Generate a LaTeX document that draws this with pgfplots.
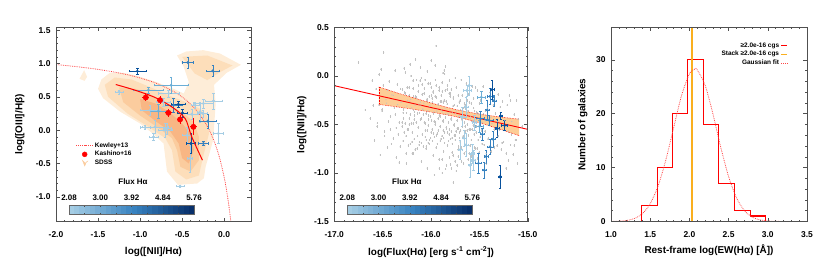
\documentclass[border=0pt]{standalone}
\usepackage{fontspec}
\setmainfont{Liberation Sans}
\usepackage{pgfplots}
\pgfplotsset{compat=1.18}
\definecolor{cbA}{RGB}{165,205,228}
\definecolor{cbB}{RGB}{107,174,214}
\definecolor{cbC}{RGB}{55,130,192}
\definecolor{cbD}{RGB}{8,81,156}
\definecolor{cbE}{RGB}{8,48,107}
\definecolor{sd1}{RGB}{254,237,216}
\definecolor{sd2}{RGB}{253,222,186}
\definecolor{sd3}{RGB}{251,204,158}
\definecolor{sd4}{RGB}{248,182,132}
\definecolor{band}{RGB}{253,205,150}
\definecolor{stackor}{RGB}{250,175,30}
\definecolor{myred}{RGB}{255,0,0}
\definecolor{histred}{RGB}{255,0,0}
\definecolor{gaussred}{RGB}{255,70,70}
\definecolor{frame}{RGB}{80,80,80}
\foreach \i in {0,...,11}{\pgfmathtruncatemacro\p{round(\i*100/12)}\xglobal\colorlet{cbs\i}{cbC!\p!cbA}}
\foreach \i in {12,...,23}{\pgfmathtruncatemacro\p{round((\i-12)*100/11)}\xglobal\colorlet{cbs\i}{cbE!\p!cbC}}
\pgfplotsset{
  myaxis/.style={
    scale only axis, axis on top,
    axis line style={frame, line width=0.9pt},
    tick style={frame, line width=0.6pt},
    major tick length=4pt, minor tick length=2pt,
    ticklabel style={font=\fontsize{8.5}{10}\selectfont\bfseries},
    label style={font=\fontsize{10}{12}\selectfont\bfseries},
    /pgf/number format/assume math mode=true,
    /pgf/number format/fixed, /pgf/number format/fixed zerofill,
    /pgf/number format/precision=1,
    minor x tick num=4, minor y tick num=4,
    xticklabel shift=7pt, yticklabel shift=2pt,
  },
  blueerr/.style={only marks, mark=*, mark size=1.2pt, color=#1,
    error bars/x dir=both, error bars/x explicit, error bars/y dir=both, error bars/y explicit,
    error bars/error bar style={line width=0.45pt}},
}
\newcommand{\cbar}[2]{% #1 = left x, #2 = slice width (axis description)
  \pgfplotsinvokeforeach{0,...,23}{
    \fill[cbs##1] (axis description cs:{#1+##1*#2},0.037) rectangle (axis description cs:{#1+(##1+1)*#2+0.002},0.081);}
  \draw[black!60, line width=0.7pt] (axis description cs:#1,0.037) rectangle (axis description cs:{#1+24*#2},0.081);
  \pgfplotsinvokeforeach{1,...,7}{
    \draw[black!70, line width=0.4pt] (axis description cs:{#1+##1*3*#2},0.037) -- ++(0pt,1.5pt);
    \draw[black!70, line width=0.4pt] (axis description cs:{#1+##1*3*#2},0.081) -- ++(0pt,-1.5pt);}
  \pgfplotsinvokeforeach{0,1,2,3,4}{
    \node[font=\fontsize{8}{9}\selectfont\bfseries] at (axis description cs:{#1+##1*6*#2},0.121)
      {\pgfmathparse{2.08+##1*0.92}\pgfmathprintnumber[fixed,fixed zerofill,precision=2,assume math mode=true]{\pgfmathresult}};}
}
\begin{document}
\begin{tikzpicture}
\useasboundingbox (0,0) rectangle (830bp,277bp);
% ================= Panel 1 =================
\begin{axis}[myaxis, at={(56bp,55.5bp)}, anchor=south west,
  width=195bp, height=194bp,
  xmin=-2.0, xmax=0.32, ymin=-1.37, ymax=1.54,
  xtick={-2,-1.5,-1,-0.5,0}, ytick={-1,-0.5,0,0.5,1,1.5},
  xlabel={log([NII]/Hα)}, ylabel={log([OIII]/Hβ)},
  xlabel style={at={(axis description cs:0.5,-0.157)}, anchor=center},
  ylabel style={at={(axis description cs:-0.185,0.5)}, anchor=center},
  legend style={at={(axis description cs:0.10,0.415)}, anchor=north west,
    draw=none, fill=none, font=\fontsize{6.5}{7.5}\selectfont\bfseries,
    row sep=0.3pt, inner sep=0pt, nodes={inner sep=1.2pt}},
  legend cell align=left,
]
% SDSS contours
\addplot[fill=sd1, draw=none, forget plot] coordinates {
(-1.50,0.62) (-1.46,0.76) (-1.36,0.86) (-1.20,0.86) (-1.05,0.82) (-0.80,0.72)
(-0.60,0.62) (-0.48,0.55) (-0.42,0.72) (-0.48,0.95) (-0.56,1.12) (-0.45,1.18)
(-0.25,1.20) (-0.05,1.15) (0.20,0.98) (0.03,0.86) (-0.12,0.68) (-0.10,0.40)
(-0.13,-0.15) (-0.22,-0.55) (-0.24,-0.72) (-0.32,-0.80) (-0.55,-0.82)
(-0.68,-0.62) (-0.72,-0.20) (-0.85,-0.05) (-1.00,0.10) (-1.24,0.28) (-1.44,0.48)} -- cycle;
\addplot[fill=sd1, draw=none, forget plot] coordinates {
(-1.72,0.77) (-1.66,0.74) (-1.63,0.80) (-1.665,0.90)} -- cycle;
\addplot[fill=sd2, draw=none, forget plot] coordinates {
(-1.42,0.68) (-1.30,0.79) (-1.10,0.76) (-0.85,0.63) (-0.62,0.50) (-0.45,0.42)
(-0.30,0.33) (-0.20,0.22) (-0.18,-0.05) (-0.25,-0.40) (-0.30,-0.68) (-0.45,-0.74)
(-0.58,-0.62) (-0.62,-0.30) (-0.70,-0.12) (-0.90,0.05) (-1.15,0.25) (-1.38,0.50)} -- cycle;
\addplot[fill=sd2, draw=none, forget plot] coordinates {
(-0.50,1.10) (-0.20,1.12) (0.10,0.97) (-0.05,0.87) (-0.20,0.75) (-0.35,0.85)} -- cycle;
\addplot[fill=sd3, draw=none, forget plot] coordinates {
(-1.25,0.64) (-1.05,0.62) (-0.85,0.52) (-0.65,0.38) (-0.48,0.25) (-0.36,0.12)
(-0.30,-0.10) (-0.30,-0.45) (-0.40,-0.62) (-0.52,-0.55) (-0.56,-0.30) (-0.62,-0.12)
(-0.80,0.05) (-1.00,0.22) (-1.20,0.42)} -- cycle;
\addplot[fill=sd4, draw=none, forget plot] coordinates {
(-1.00,0.47) (-0.82,0.40) (-0.64,0.26) (-0.50,0.10) (-0.40,-0.05) (-0.36,-0.30)
(-0.42,-0.50) (-0.50,-0.42) (-0.54,-0.20) (-0.64,-0.02) (-0.82,0.14) (-0.98,0.30)} -- cycle;
% Kewley+13
\addplot[gaussred, densely dotted, line width=0.8pt, smooth, forget plot] coordinates {
(-2.0,0.984) (-1.8,0.959) (-1.6,0.929) (-1.4,0.892) (-1.2,0.845) (-1.0,0.783)
(-0.8,0.700) (-0.6,0.580) (-0.5,0.498) (-0.4,0.392) (-0.3,0.253) (-0.2,0.059)
(-0.15,-0.070) (-0.1,-0.229) (-0.05,-0.432) (0.0,-0.701) (0.03,-0.908)
(0.05,-1.071) (0.07,-1.262) (0.085,-1.427)};
% blue points
\addplot[forget plot, blueerr=cbA] table[row sep=\\, x error index=2, y error index=3] {
-1.25 0.575 0.05 0.03 \\ -0.385 0.24 0.06 0.08 \\ -0.246 0.40 0.12 0.07 \\
-0.127 0.44 0.10 0.12 \\ -0.881 0.30 0.12 0.08 \\ -0.722 0.425 0.08 0.06 \\
-0.821 0.05 0.15 0.10 \\ -0.702 0.0 0.08 0.10 \\ -0.94 0.04 0.06 0.03 \\
-0.068 -0.05 0.06 0.15 \\ -0.66 0.55 0.12 0.05 \\ -0.345 0.375 0.05 0.05 \\
-0.286 0.275 0.04 0.15 \\ -0.444 -0.075 0.05 0.12 \\ -0.524 -0.84 0.05 0.01 \\
-0.405 -0.425 0.03 0.20 \\ -0.84 -0.10 0.05 0.05 \\ -0.68 0.025 0.05 0.08 \\
-0.254 0.25 0.05 0.05 \\ };
\addplot[forget plot, blueerr=cbB] table[row sep=\\, x error index=2, y error index=3] {
-0.631 0.675 0.20 0.12 \\ -0.90 0.60 0.18 0.05 \\ -0.782 0.285 0.10 0.10 \\ };
\addplot[forget plot, blueerr=cbC] table[row sep=\\, x error index=2, y error index=3] {
-0.432 1.015 0.07 0.08 \\ -0.135 0.89 0.08 0.08 \\ -0.60 0.375 0.10 0.10 \\
-0.194 0.135 0.10 0.10 \\ -0.246 -0.20 0.06 0.03 \\ };
\addplot[forget plot, blueerr=cbD] table[row sep=\\, x error index=2, y error index=3] {
-1.032 0.885 0.10 0.05 \\ -0.544 0.39 0.08 0.05 \\ -0.496 0.26 0.06 0.06 \\
-0.397 -0.20 0.05 0.15 \\ };
% Kashino fit line
\addplot[myred, line width=1pt, smooth, forget plot] coordinates {
(-1.289,0.685) (-1.06,0.60) (-0.821,0.49) (-0.623,0.35) (-0.464,0.175)
(-0.385,-0.10) (-0.258,-0.45)};
% Kashino points
\addplot[forget plot, only marks, mark=*, mark size=2.7pt, color=myred,
  error bars/x dir=both, error bars/x explicit, error bars/y dir=both, error bars/y explicit,
  error bars/error mark=none,
  error bars/error bar style={line width=0.9pt}] table[row sep=\\, x error index=2, y error index=3] {
-0.932 0.49 0.04 0.06 \\ -0.762 0.45 0.04 0.06 \\ -0.663 0.26 0.04 0.06 \\
-0.524 0.16 0.04 0.07 \\ -0.365 0.05 0.04 0.13 \\ };
% legend
\addlegendimage{gaussred, densely dotted, line width=1pt}
\addlegendentry{Kewley+13}
\addlegendimage{only marks, mark=*, mark size=2.5pt, myred}
\addlegendentry{Kashino+16}
\addlegendimage{legend image code/.code={\fill[sd3] (0.22cm,0.1cm) -- (0.30cm,-0.1cm) -- (0.36cm,0.04cm) -- (0.42cm,0.08cm) -- (0.32cm,0.0cm) -- cycle;}}
\addlegendentry{SDSS}
\cbar{0.067}{0.026708}
\node[font=\fontsize{8}{9}\selectfont\bfseries] at (axis description cs:0.395,0.205) {Flux Hα};
\end{axis}
% ================= Panel 2 =================
\begin{axis}[myaxis, at={(334.3bp,55.5bp)}, anchor=south west,
  width=193.5bp, height=194bp,
  xmin=-17, xmax=-15, ymin=-1.5, ymax=0.5,
  xtick={-17,-16.5,-16,-15.5,-15}, ytick={-1.5,-1,-0.5,0,0.5},
  xlabel={log(Flux(Hα) [erg s\textsuperscript{-1} cm\textsuperscript{-2}])},
  ylabel={log([NII]/Hα)},
  xlabel style={at={(axis description cs:0.5,-0.157)}, anchor=center},
  ylabel style={at={(axis description cs:-0.168,0.5)}, anchor=center},
]
\addplot[only marks, mark=*, mark size=0.35pt, color=black!24,
  error bars/y dir=both, error bars/y fixed=0.014, error bars/error mark=none,
  error bars/error bar style={line width=0.3pt, black!24}]
 coordinates {
(-16.75,0.14) (-16.68,-0.35) (-16.63,-0.44) (-16.61,-0.05) (-16.56,-0.52) (-16.54,-0.30) (-16.52,0.07) (-16.49,0.24) (-16.51,-0.36) (-16.48,-0.62)
(-16.46,-0.28) (-16.44,-0.47) (-16.45,-0.15) (-16.42,-0.55) (-16.41,-0.70) (-16.39,-0.20) (-16.37,-0.40) (-16.38,-0.33) (-16.36,-0.84) (-16.35,-0.09)
(-16.34,-0.60) (-16.33,-0.48) (-16.31,-0.27) (-16.30,-0.52) (-16.32,-0.73) (-16.29,-0.38) (-16.28,0.08) (-16.27,-0.18) (-16.285,-0.44) (-16.26,-0.62)
(-16.25,-0.31) (-16.24,-0.55) (-16.255,-0.90) (-16.23,-0.12) (-16.22,0.12) (-16.21,-0.24) (-16.215,-0.40) (-16.20,-0.68) (-16.225,-0.50) (-16.19,-0.05)
(-16.18,-0.35) (-16.195,-0.58) (-16.175,-0.45) (-16.185,-0.80) (-16.16,0.17) (-16.155,-0.22) (-16.165,-0.30) (-16.15,-0.48) (-16.14,-0.62) (-16.17,-0.41)
(-16.13,-0.10) (-16.12,-0.38) (-16.135,-0.53) (-16.125,-0.71) (-16.11,-0.27) (-16.10,-0.02) (-16.095,-0.19) (-16.105,-0.44) (-16.09,-0.60) (-16.085,-0.35)
(-16.10,-0.88) (-16.07,-0.13) (-16.075,-0.28) (-16.065,-0.49) (-16.06,-0.56) (-16.08,-0.40) (-16.055,-0.75) (-16.04,0.05) (-16.045,-0.24) (-16.035,-0.36)
(-16.03,-0.51) (-16.05,-0.66) (-16.025,-0.45) (-16.04,-0.95) (-16.01,-0.08) (-16.015,-0.31) (-16.005,-0.42) (-16.00,-0.58) (-16.02,-0.70) (-15.995,-0.20)
(-15.98,-0.16) (-15.985,-0.27) (-15.975,-0.39) (-15.97,-0.47) (-15.99,-0.55) (-15.965,-0.63) (-15.98,-0.82) (-15.95,0.31) (-15.955,-0.04) (-15.945,-0.22)
(-15.94,-0.35) (-15.96,-0.50) (-15.935,-0.59) (-15.95,-0.74) (-15.93,-0.44) (-15.92,-0.12) (-15.925,-0.30) (-15.915,-0.41) (-15.91,-0.52) (-15.905,-0.67)
(-15.92,-0.86) (-15.90,-0.26) (-15.89,-0.07) (-15.895,-0.20) (-15.885,-0.37) (-15.88,-0.46) (-15.875,-0.56) (-15.89,-0.62) (-15.87,-0.78) (-15.885,-1.00)
(-15.86,0.02) (-15.865,-0.25) (-15.855,-0.33) (-15.85,-0.43) (-15.845,-0.53) (-15.86,-0.69) (-15.84,-0.92) (-15.855,-0.15) (-15.83,-0.10) (-15.835,-0.29)
(-15.825,-0.40) (-15.82,-0.48) (-15.815,-0.60) (-15.83,-0.72) (-15.81,-0.84) (-15.80,-0.18) (-15.805,-0.36) (-15.795,-0.45) (-15.79,-0.57) (-15.80,-0.65)
(-15.785,-0.79) (-15.79,-0.95) (-15.81,-0.05) (-15.77,-0.23) (-15.775,-0.31) (-15.765,-0.50) (-15.76,-0.61) (-15.78,-0.70) (-15.77,-1.10) (-15.755,-0.88)
(-15.74,-0.12) (-15.745,-0.39) (-15.735,-0.46) (-15.73,-0.54) (-15.75,-0.66) (-15.725,-0.76) (-15.74,-0.98) (-15.71,-0.27) (-15.715,-0.42) (-15.705,-0.58)
(-15.70,-0.68) (-15.72,-0.83) (-15.695,-0.35) (-15.68,-0.20) (-15.685,-0.44) (-15.675,-0.52) (-15.67,-0.63) (-15.69,-0.74) (-15.665,-0.90) (-15.65,-0.30)
(-15.655,-0.48) (-15.645,-0.57) (-15.64,-0.71) (-15.65,-1.23) (-15.635,-0.40) (-15.62,-0.36) (-15.625,-0.50) (-15.615,-0.61) (-15.61,-0.80) (-15.63,-0.25)
(-15.59,-0.42) (-15.595,-0.55) (-15.585,-0.66) (-15.58,-0.47) (-15.60,-0.92) (-15.56,-0.33) (-15.565,-0.51) (-15.555,-0.60) (-15.55,-0.74) (-15.53,-0.45)
(-15.535,-0.58) (-15.525,-0.39) (-15.52,-0.85) (-15.50,-0.28) (-15.505,-0.52) (-15.495,-0.63) (-15.47,-0.48) (-15.475,-0.70) (-15.465,-0.40) (-15.44,-0.36)
(-15.445,-0.57) (-15.435,-0.90) (-15.41,-0.50) (-15.415,-0.65) (-15.38,-0.43) (-15.385,-0.78) (-15.35,-0.55) (-15.355,-0.30) (-15.31,-0.62) (-15.315,-0.47)
(-15.27,-0.69) (-15.22,-0.52) (-15.225,-0.80) (-15.17,-0.60) (-15.12,-0.66) (-16.00,0.16) (-16.11,0.09) (-15.96,0.11) (-15.88,0.03) (-15.85,0.10)
(-15.18,-0.25) (-15.10,-0.45) (-15.14,-0.72) (-15.06,-0.52) (-15.20,-0.87)
(-16.600,-0.305) (-16.585,-0.665) (-16.570,-0.135) (-16.555,-0.485) (-16.540,0.015) (-16.525,-0.815) (-16.510,-0.345) (-16.495,-0.095) (-16.480,-0.575) (-16.465,-0.245)
(-16.450,-0.735) (-16.435,-0.055) (-16.420,-0.415) (-16.405,-0.195) (-16.390,-0.645) (-16.375,0.055) (-16.360,-0.535) (-16.345,-0.295) (-16.330,-0.895) (-16.315,-0.135)
(-16.300,-0.48) (-16.295,-0.14) (-16.290,-0.67) (-16.285,-0.345) (-16.280,-0.58) (-16.275,-0.17) (-16.270,-0.49) (-16.265,0.035) (-16.260,-0.80) (-16.255,-0.38)
(-16.250,-0.12) (-16.245,-0.55) (-16.240,-0.25) (-16.235,-0.72) (-16.230,-0.20) (-16.225,-0.44) (-16.220,-0.26) (-16.215,-0.70) (-16.210,0.00) (-16.205,-0.49)
(-16.200,-0.33) (-16.195,-0.80) (-16.190,-0.13) (-16.185,-0.49) (-16.180,-0.21) (-16.175,-0.65) (-16.170,-0.37) (-16.165,-0.76) (-16.160,-0.21) (-16.155,-0.48)
(-16.150,-0.04) (-16.145,-0.75) (-16.140,-0.39) (-16.135,-0.16) (-16.130,-0.53) (-16.125,-0.29) (-16.120,-0.68) (-16.115,-0.05) (-16.110,-0.45) (-16.105,-0.30)
(-16.100,-0.69) (-16.095,-0.09) (-16.090,-0.60) (-16.085,-0.34) (-16.080,-0.73) (-16.075,-0.18) (-16.070,-0.48) (-16.065,-0.04) (-16.060,-0.63) (-16.055,-0.39)
(-16.050,-0.73) (-16.045,-0.25) (-16.040,-0.56) (-16.035,-0.08) (-16.030,-0.69) (-16.025,-0.41) (-16.020,-0.21) (-16.015,-0.66) (-16.010,-0.31) (-16.005,-0.64)
(-16.000,-0.12) (-15.995,-0.46) (-15.990,-0.23) (-15.985,-0.67) (-15.980,-0.17) (-15.975,-0.59) (-15.970,-0.37) (-15.965,-1.02) (-15.960,-0.21) (-15.955,-0.48)
(-15.950,-0.10) (-15.945,-0.61) (-15.940,-0.37) (-15.935,-0.70) (-15.930,-0.29) (-15.925,-0.56) (-15.920,-0.15) (-15.915,-0.95) (-15.910,-0.42) (-15.905,-0.26)
(-15.900,-0.65) (-15.895,-0.35) (-15.890,-0.86) (-15.885,-0.16) (-15.880,-0.47) (-15.875,-0.27) (-15.870,-0.64) (-15.865,0.06) (-15.860,-0.58) (-15.855,-0.39)
(-15.850,-0.96) (-15.845,-0.26) (-15.840,-0.54) (-15.835,-0.14) (-15.830,-0.58) (-15.825,-0.39) (-15.820,-0.67) (-15.815,-0.18) (-15.810,-0.55) (-15.805,-0.21)
(-15.800,-0.91) (-15.795,-0.44) (-15.790,-0.14) (-15.785,-0.64) (-15.780,-0.38) (-15.775,-0.82) (-15.770,-0.22) (-15.765,-0.51) (-15.760,-0.30) (-15.755,-0.61)
(-15.750,-0.02) (-15.745,-0.57) (-15.740,-0.36) (-15.735,-0.92) (-15.730,-0.31) (-15.725,-0.54) (-15.720,-0.20) (-15.715,-0.73) (-15.710,-0.41) (-15.705,-0.64)
(-15.700,-0.25) (-15.695,-0.56) (-15.690,-0.04) (-15.685,-0.88) (-15.680,-0.46) (-15.675,-0.20) (-15.670,-0.62) (-15.665,-0.33) (-15.660,-0.80) (-15.655,-0.28)
(-15.650,-0.52) (-15.645,-0.34) (-15.640,-0.78) (-15.635,-0.08) (-15.630,-0.56) (-15.625,-0.39) (-15.620,-0.86) (-15.615,-0.19) (-15.610,-0.55) (-15.605,-0.27)
(-15.600,-0.72) (-15.595,-0.44) (-15.590,-0.83) (-15.585,-0.28) (-15.580,-0.55) (-15.575,-0.11) (-15.570,-0.82) (-15.565,-0.46) (-15.560,-0.23) (-15.555,-0.60)
(-15.550,-0.36) (-15.545,-0.75) (-15.540,-0.12) (-15.535,-0.52) (-15.530,-0.37) (-15.525,-0.75) (-15.520,-0.15) (-15.515,-0.66) (-15.510,-0.40) (-15.505,-0.79)
(-15.490,-0.25) (-15.478,-0.56) (-15.466,-0.11) (-15.454,-0.71) (-15.442,-0.46) (-15.430,-0.80) (-15.418,-0.33) (-15.406,-0.64) (-15.394,-0.17) (-15.382,-0.78)
(-15.370,-0.49) (-15.358,-0.30) (-15.346,-0.74) (-15.334,-0.39) (-15.322,-0.72) (-15.310,-0.19) (-15.298,-0.55) (-15.286,-0.32) (-15.274,-0.76) (-15.262,-0.26)
(-15.250,-0.68) (-15.238,-0.46) (-15.226,-0.95) (-15.214,-0.30) (-15.202,-0.57) (-15.190,-0.20) (-15.178,-0.71) (-15.166,-0.47) (-15.154,-0.81) (-15.142,-0.40)
(-15.130,-0.66) (-15.118,-0.25) (-15.106,-0.90)};
% band
\addplot[fill=band, draw=none] coordinates {
(-16.54,-0.1135) (-16.3,-0.1895) (-16.0,-0.278) (-15.75,-0.344) (-15.5,-0.3925) (-15.3,-0.4205) (-15.09,-0.445)
(-15.09,-0.615) (-15.3,-0.5445) (-15.5,-0.4825) (-15.75,-0.418) (-16.0,-0.372) (-16.3,-0.3255) (-16.54,-0.2935)} -- cycle;
\addplot[myred, densely dotted, line width=0.6pt, smooth] coordinates {
(-16.54,-0.1135) (-16.3,-0.1895) (-16.0,-0.278) (-15.75,-0.344) (-15.5,-0.3925) (-15.3,-0.4205) (-15.09,-0.445)};
\addplot[myred, densely dotted, line width=0.6pt, smooth] coordinates {
(-16.54,-0.2935) (-16.3,-0.3255) (-16.0,-0.372) (-15.75,-0.418) (-15.5,-0.4825) (-15.3,-0.5445) (-15.09,-0.615)};
\addplot[myred, densely dotted, line width=0.6pt] coordinates {(-16.54,-0.1135) (-16.54,-0.2935)};
\addplot[myred, line width=0.9pt] coordinates {(-17,-0.10) (-15,-0.55)};
% blue points
\addplot[blueerr=cbA] table[row sep=\\, x error index=2, y error index=3] {
-15.61 -0.10 0.02 0.10 \\ -15.63 -0.15 0.04 0.06 \\ -15.64 -0.32 0.02 0.10 \\
-15.66 -0.64 0.02 0.08 \\ -15.64 -0.71 0.02 0.12 \\ -15.57 -0.80 0.02 0.10 \\
-15.56 -0.87 0.02 0.10 \\ -15.68 -0.42 0.02 0.10 \\ -15.70 -0.76 0.02 0.10 \\
-15.60 -0.92 0.02 0.12 \\ -15.55 -0.48 0.02 0.08 \\ };
\addplot[blueerr=cbB] table[row sep=\\, x error index=2, y error index=3] {
-15.50 -0.52 0.04 0.06 \\ -15.48 -0.22 0.04 0.06 \\ };
\addplot[blueerr=cbC] table[row sep=\\, x error index=2, y error index=3] {
-15.39 -0.21 0.03 0.08 \\ -15.35 -0.255 0.02 0.06 \\ -15.49 -0.44 0.04 0.08 \\
-15.40 -0.455 0.04 0.05 \\ -15.36 -0.65 0.02 0.08 \\ -15.39 -0.73 0.03 0.08 \\
-15.51 -0.90 0.03 0.10 \\ -15.45 -0.97 0.02 0.08 \\ -15.42 -0.35 0.02 0.10 \\
-15.47 -0.60 0.02 0.06 \\ -15.43 -0.83 0.02 0.07 \\ };
\addplot[blueerr=cbD] table[row sep=\\, x error index=2, y error index=3] {
-15.37 -0.14 0.02 0.10 \\ -15.28 -0.41 0.02 0.04 \\ -15.32 -0.54 0.02 0.09 \\
-15.24 -0.51 0.03 0.05 \\ -15.29 -1.04 0.02 0.12 \\ };
\cbar{0.067}{0.026917}
\node[font=\fontsize{8}{9}\selectfont\bfseries] at (axis description cs:0.375,0.205) {Flux Hα};
\end{axis}
% ================= Panel 3 =================
\begin{axis}[myaxis, at={(611bp,55.5bp)}, anchor=south west,
  width=196bp, height=194bp,
  xmin=1.0, xmax=3.5, ymin=0, ymax=36,
  xtick={1,1.5,2,2.5,3,3.5}, ytick={0,10,20,30},
  yticklabel style={/pgf/number format/precision=0},
  xlabel={Rest-frame log(EW(Hα) [Å])},
  ylabel={Number of galaxies},
  xlabel style={at={(axis description cs:0.5,-0.147)}, anchor=center},
  ylabel style={at={(axis description cs:-0.144,0.5)}, anchor=center},
  legend style={at={(axis description cs:0.92,0.94)}, anchor=north east,
    draw=none, fill=none, font=\fontsize{6.5}{7.5}\selectfont\bfseries,
    row sep=0pt, nodes={inner sep=1.3pt}},
  legend plot pos=right, legend cell align=right,
]
\addplot[const plot, draw=histred, line width=1.3pt, forget plot] coordinates {
(1.0,0) (1.39,3) (1.59,10) (1.785,20) (1.98,30) (2.18,18) (2.375,7) (2.575,2)
(2.775,1) (2.97,0) (3.5,0)};
\addplot[draw=stackor, line width=1.5pt, forget plot] coordinates {(2.03,0) (2.03,36)};
\addplot[draw=gaussred, densely dotted, line width=0.8pt, smooth, forget plot] coordinates {
(1.0,0.015) (1.1,0.056) (1.2,0.19) (1.3,0.56) (1.4,1.45) (1.5,3.30) (1.6,6.57)
(1.7,11.45) (1.8,17.48) (1.9,23.38) (2.0,27.40) (2.07,28.3) (2.1,28.13) (2.2,25.31)
(2.3,19.95) (2.4,13.78) (2.5,8.33) (2.6,4.42) (2.7,2.05) (2.8,0.83) (2.9,0.30)
(3.0,0.09) (3.1,0.03) (3.3,0.0) (3.5,0.0)};
\addlegendimage{legend image code/.code={\draw[histred, line width=1.3pt] (0cm,0cm) -- (0.22cm,0cm);}}
\addlegendentry{≥2.0e-16 cgs}
\addlegendimage{legend image code/.code={\draw[stackor, line width=1.5pt] (0cm,0cm) -- (0.22cm,0cm);}}
\addlegendentry{Stack ≥2.0e-16 cgs}
\addlegendimage{legend image code/.code={\draw[gaussred, densely dotted, line width=1pt] (0cm,0cm) -- (0.22cm,0cm);}}
\addlegendentry{Gaussian fit}
\end{axis}
\end{tikzpicture}
\end{document}
